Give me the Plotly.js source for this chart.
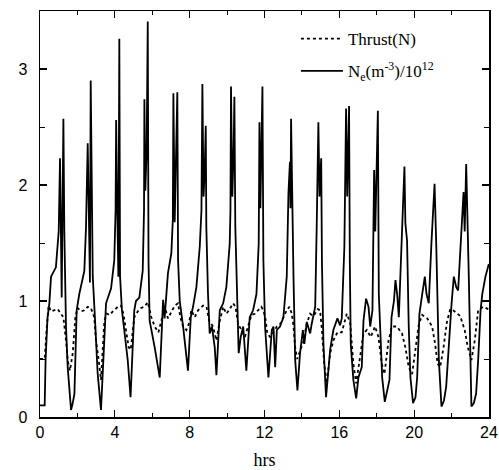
<!DOCTYPE html>
<html>
<head>
<meta charset="utf-8">
<script src="https://cdn.plot.ly/plotly-3.0.1.min.js"></script>
<style>html,body{margin:0;padding:0;background:#fff;}#chart{width:499px;height:470px;}</style>
</head>
<body>
<div id="chart"></div>
<script>
// Thrust (N) vs time (hrs)
const thrustHrs = [0,0.25,0.35,0.46,0.59,0.77,0.95,1.12,1.25,1.39,1.48,1.60,1.75,1.89,2.01,2.19,2.37,2.55,2.72,2.90,2.99,3.14,3.26,3.44,3.57,3.73,3.89,4.16,4.33,4.46,4.60,4.74,4.85,5.04,5.22,5.40,5.58,5.76,5.95,6.13,6.33,6.52,6.67,6.84,7.02,7.20,7.38,7.50,7.65,7.82,7.95,8.09,8.27,8.45,8.72,8.90,9.04,9.25,9.43,9.61,9.79,9.96,10.14,10.32,10.45,10.59,10.77,10.95,11.12,11.30,11.48,11.66,11.83,11.94,12.05,12.15,12.30,12.48,12.66,12.83,13.01,13.19,13.33,13.46,13.55,13.64,13.75,13.90,14.08,14.25,14.44,14.62,14.85,14.97,15.07,15.19,15.33,15.51,15.68,15.90,16.13,16.40,16.58,16.75,16.90,17.11,17.29,17.47,17.68,17.91,18.09,18.27,18.41,18.63,18.81,19.08,19.35,19.53,19.71,19.89,20.07,20.25,20.43,20.70,20.96,21.12,21.25,21.39,21.57,21.75,21.93,22.08,22.25,22.46,22.70,22.87,23.06,23.24,23.42,23.69,23.96];
const thrustVals = [0.50,0.50,0.75,0.96,0.91,0.92,0.93,0.89,0.86,0.66,0.49,0.40,0.55,0.86,0.94,0.91,0.92,0.95,0.94,0.86,0.66,0.49,0.32,0.83,0.89,0.88,0.91,0.95,0.96,0.89,0.75,0.60,0.58,0.86,0.91,0.94,0.95,0.99,0.86,0.78,0.73,0.86,0.95,0.85,0.91,0.96,0.98,0.86,0.78,0.75,0.80,0.92,0.86,0.92,0.96,0.95,0.83,0.78,0.66,0.83,0.95,0.89,0.93,0.98,0.95,0.80,0.75,0.69,0.78,0.88,0.89,0.92,0.95,0.92,0.85,0.72,0.69,0.73,0.78,0.80,0.86,0.92,0.95,0.89,0.78,0.60,0.50,0.57,0.65,0.80,0.89,0.87,0.93,0.92,0.75,0.46,0.29,0.55,0.66,0.73,0.73,0.89,0.81,0.46,0.29,0.52,0.72,0.75,0.69,0.78,0.69,0.46,0.37,0.66,0.78,0.78,0.72,0.60,0.43,0.37,0.60,0.80,0.88,0.85,0.78,0.63,0.46,0.43,0.60,0.82,0.93,0.92,0.90,0.87,0.75,0.60,0.49,0.66,0.92,0.95,0.93];

// Electron density Ne (m^-3) / 1e12 vs time (hrs)
const neHrs = [0,0.25,0.30,0.40,0.50,0.59,0.85,1.00,1.07,1.12,1.16,1.21,1.25,1.30,1.39,1.48,1.66,1.75,1.84,1.96,2.10,2.37,2.46,2.55,2.60,2.67,2.71,2.76,2.82,2.96,3.08,3.26,3.44,3.53,3.80,3.97,4.04,4.07,4.12,4.19,4.24,4.26,4.28,4.38,4.51,4.69,4.84,5.04,5.13,5.31,5.49,5.56,5.58,5.63,5.70,5.76,5.80,5.86,6.13,6.40,6.58,6.66,6.84,7.02,7.10,7.13,7.20,7.28,7.34,7.38,7.47,7.65,7.91,8.06,8.18,8.36,8.54,8.63,8.68,8.74,8.80,8.86,8.89,8.98,9.07,9.19,9.34,9.43,9.61,9.79,9.96,10.14,10.18,10.21,10.28,10.35,10.39,10.44,10.55,10.62,10.73,10.86,11.03,11.21,11.39,11.57,11.69,11.73,11.78,11.89,11.94,12.03,12.21,12.39,12.48,12.57,12.66,12.83,13.01,13.19,13.28,13.36,13.39,13.42,13.55,13.64,13.76,13.90,14.05,14.13,14.26,14.44,14.52,14.71,14.79,14.88,14.94,15.03,15.07,15.15,15.29,15.51,15.68,15.90,16.04,16.13,16.27,16.36,16.42,16.52,16.56,16.61,16.75,16.90,17.02,17.20,17.29,17.43,17.56,17.65,17.77,17.86,17.92,18.06,18.11,18.20,18.29,18.43,18.56,18.68,18.79,18.92,19.00,19.09,19.18,19.27,19.40,19.48,19.53,19.62,19.71,19.80,19.94,20.07,20.16,20.28,20.43,20.57,20.66,20.78,20.92,21.09,21.18,21.27,21.32,21.46,21.59,21.71,21.86,22.00,22.12,22.25,22.35,22.47,22.64,22.70,22.78,22.92,22.98,23.06,23.19,23.31,23.42,23.55,23.64,23.81,23.99];
const neVals = [0.10,0.10,0.50,0.85,0.98,1.21,1.29,1.60,2.23,1.40,1.03,1.90,2.57,1.60,0.78,0.43,0.06,0.12,0.20,0.92,1.06,1.26,1.64,2.36,1.80,1.16,2.90,1.90,1.21,0.78,0.38,0.06,0.78,0.98,1.11,1.35,1.78,2.56,1.90,1.21,3.26,2.20,1.21,0.92,0.72,0.49,0.17,0.92,1.00,1.03,1.26,1.78,2.74,1.95,2.30,3.41,1.35,0.83,0.60,0.34,1.01,0.85,1.24,1.41,1.70,2.79,1.68,2.20,2.80,1.35,1.00,0.78,0.40,0.86,0.95,1.12,1.47,1.78,2.87,1.90,2.10,2.51,1.64,1.06,0.72,0.78,0.60,0.36,0.92,0.98,1.12,1.49,1.78,2.85,1.90,2.30,2.76,1.64,1.00,0.55,0.69,0.78,0.40,0.86,0.92,1.06,1.49,2.54,1.80,2.85,1.35,0.78,0.34,0.75,0.78,0.43,0.75,0.78,0.86,1.21,1.93,2.20,1.80,2.57,1.21,0.49,0.23,0.55,0.75,0.63,0.82,0.72,0.80,0.95,1.64,2.54,1.90,2.23,1.35,0.63,0.17,0.58,0.75,0.85,0.79,0.85,1.47,2.66,1.90,2.68,1.35,0.63,0.32,0.16,0.34,0.43,0.83,1.02,0.95,0.78,0.92,2.13,1.60,2.64,1.06,0.63,0.34,0.13,0.23,0.32,0.86,1.00,1.18,1.06,0.86,1.21,1.78,2.16,1.67,1.52,0.78,0.34,0.12,0.17,0.34,0.89,1.06,1.21,1.06,0.98,1.49,2.01,1.49,0.92,0.49,0.09,0.14,0.26,0.66,0.98,1.21,1.12,1.09,1.49,1.94,1.60,2.18,1.21,0.63,0.09,0.12,0.20,0.49,0.92,1.06,1.21,1.32];

const xTickVals = [0,4,8,12,16,20,24];
const yTickVals = [0,1,2,3];

const traces = [
  {x: thrustHrs, y: thrustVals, type: 'scatter', mode: 'lines', name: 'Thrust(N)',
   legendgroup: 'thrust',
   line: {color: '#000', width: 1.8, dash: 'dot'}},
  {x: neHrs, y: neVals, type: 'scatter', mode: 'lines', name: 'N<sub>e</sub>(m<sup>-3</sup>)/10<sup>12</sup>',
   legendgroup: 'ne',
   line: {color: '#000', width: 1.8}}
];

const axisCommon = {
  showgrid: false, zeroline: false, showline: true, linecolor: '#000', linewidth: 1.5,
  mirror: 'allticks', ticks: 'inside', ticklen: 7, tickwidth: 1.2, tickcolor: '#000',
  tickfont: {family: 'Liberation Sans, Arial, sans-serif', size: 16, color: '#000'}
};

const layout = {
  width: 499, height: 470,
  margin: {l: 40, r: 10, t: 11, b: 53},
  paper_bgcolor: '#fff', plot_bgcolor: '#fff',
  showlegend: true,
  legend: {x: 0.57, y: 0.975, xanchor: 'left', yanchor: 'top', bgcolor: 'rgba(0,0,0,0)',
           font: {family: 'Liberation Serif, Times New Roman, serif', size: 17, color: '#000'},
           itemwidth: 42, tracegroupgap: 7, traceorder: 'grouped'},
  xaxis: Object.assign({}, axisCommon, {
    range: [0, 24], tickvals: xTickVals, ticktext: xTickVals.map(String),
    minor: {tickvals: [2,6,10,14,18,22], ticks: 'inside', ticklen: 4, tickcolor: '#000', tickwidth: 1},
    title: {text: 'hrs', standoff: 14, font: {family: 'Liberation Serif, Times New Roman, serif', size: 18, color: '#000'}}
  }),
  yaxis: Object.assign({}, axisCommon, {
    range: [0, 3.5], tickvals: yTickVals, ticktext: yTickVals.map(String),
    minor: {tickvals: [0.5,1.5,2.5], ticks: 'inside', ticklen: 5, tickcolor: '#000', tickwidth: 1},
    ticklabelstandoff: 8
  })
};

Plotly.newPlot('chart', traces, layout, {staticPlot: true, displayModeBar: false});
</script>
</body>
</html>
